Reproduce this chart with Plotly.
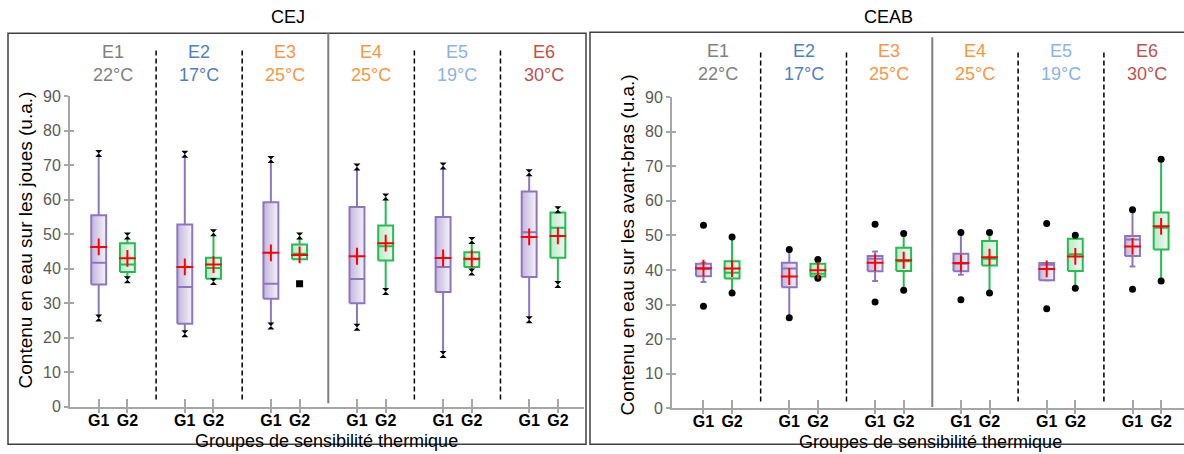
import plotly.graph_objects as go

W, H = 1184, 454
FONT = "Liberation Sans, Arial, sans-serif"

ENVS = ["E1", "E2", "E3", "E4", "E5", "E6"]
TEMPS = ["22°C", "17°C", "25°C", "25°C", "19°C", "30°C"]
ENV_COLORS = ["#808080", "#4F81BD", "#F79646", "#F79646", "#8DB3E2", "#C0504D"]
GROUPS = ["G1", "G2"]
Y_TICKS = [0, 10, 20, 30, 40, 50, 60, 70, 80, 90]

# order of each list: E1-G1, E1-G2, E2-G1, E2-G2, ... E6-G2
CEJ_MIN = [25.7, 36.8, 21.1, 36.3, 23.4, 35.6, 23.0, 33.4, 15.1, 39.0, 25.2, 35.4]
CEJ_LOW = [25.7, 36.8, 21.1, 36.3, 23.4, 42.7, 23.0, 33.4, 15.1, 39.0, 25.2, 35.4]
CEJ_Q1 = [35.4, 39.0, 24.0, 37.1, 31.3, 42.7, 30.0, 42.4, 33.2, 40.5, 37.6, 43.2]
CEJ_MED = [41.7, 41.2, 34.7, 40.2, 35.6, 44.3, 37.0, 46.5, 40.5, 42.7, 50.6, 51.9]
CEJ_Q3 = [55.5, 47.4, 52.8, 43.2, 59.3, 47.0, 57.9, 52.5, 55.0, 44.8, 62.4, 56.3]
CEJ_HIGH = [73.4, 49.5, 73.2, 50.4, 71.7, 49.5, 69.5, 60.8, 69.8, 48.2, 67.8, 57.1]
CEJ_MAX = [73.4, 49.5, 73.2, 50.4, 71.7, 49.5, 69.5, 60.8, 69.8, 48.2, 67.8, 57.1]
CEJ_MEAN = [46.3, 43.0, 40.5, 41.2, 44.6, 44.0, 43.6, 47.4, 43.1, 42.9, 49.2, 49.5]

CEAB_MIN = [29.5, 33.3, 26.2, 37.6, 30.7, 34.1, 31.4, 33.3, 28.8, 34.7, 34.4, 36.8]
CEAB_LOW = [36.5, 33.3, 26.2, 37.6, 36.8, 34.1, 38.6, 33.3, 37.0, 34.7, 41.0, 36.8]
CEAB_Q1 = [38.2, 37.5, 35.0, 38.1, 39.6, 39.7, 39.6, 41.3, 37.0, 39.7, 44.0, 45.9]
CEAB_MED = [40.3, 39.2, 40.4, 38.9, 43.2, 42.5, 41.8, 43.2, 41.5, 44.5, 48.8, 52.2]
CEAB_Q3 = [41.8, 42.5, 42.1, 41.8, 44.0, 46.4, 44.7, 48.4, 42.0, 49.0, 49.8, 56.6]
CEAB_HIGH = [42.1, 49.5, 45.9, 43.0, 45.3, 50.5, 50.8, 50.8, 42.0, 50.0, 57.4, 72.0]
CEAB_MAX = [52.9, 49.5, 45.9, 43.0, 53.2, 50.5, 50.8, 50.8, 53.4, 50.0, 57.4, 72.0]
CEAB_MEAN = [40.5, 40.4, 38.1, 39.9, 42.1, 42.8, 42.0, 43.7, 40.3, 43.9, 46.8, 52.6]

LINE_COL = ["#8E76BC", "#23BC50"]
GRAD = [[[0, "#C2B5DD"], [1, "#F6F3FA"]], [[0, "#BDE9C9"], [1, "#EEF9F1"]]]
AX_COL = "#A6A6A6"
HALF = 0.26
CAP = 0.1

# the captured page shows the figure with a small vertical offset and squeeze;
# convert target screen pixels into figure pixels accordingly
V_OFF, V_SCALE = 7.7, 0.962

fig = go.Figure()


def px_y(p):
    yf = (p - V_OFF) / V_SCALE
    yf = min(max(yf, 0.8), H - 0.8)
    return (H - yf) / H


def positions():
    return [3 * e + g for e in range(len(ENVS)) for g in range(len(GROUPS))]


def draw_panel(xa, ya, mn, low, q1, med, q3, high, mx, mean, end_symbol, caps):
    pos = positions()
    for g in range(2):
        idx = [i for i in range(len(pos)) if i % 2 == g]
        wx, wy = [], []
        for i in idx:
            wx += [pos[i], pos[i], None, pos[i], pos[i], None]
            wy += [low[i], q1[i], None, q3[i], high[i], None]
            if caps:
                if low[i] != mn[i]:
                    wx += [pos[i] - CAP, pos[i] + CAP, None]
                    wy += [low[i], low[i], None]
                if high[i] != mx[i]:
                    wx += [pos[i] - CAP, pos[i] + CAP, None]
                    wy += [high[i], high[i], None]
        fig.add_trace(go.Scatter(x=wx, y=wy, mode="lines", xaxis=xa, yaxis=ya,
                                 line=dict(color=LINE_COL[g], width=2),
                                 hoverinfo="skip", showlegend=False))
    for i in range(len(pos)):
        g = i % 2
        x0, x1 = pos[i] - HALF, pos[i] + HALF
        fig.add_trace(go.Scatter(
            x=[x0, x1, x1, x0, x0], y=[q1[i], q1[i], q3[i], q3[i], q1[i]],
            mode="lines", fill="toself", xaxis=xa, yaxis=ya,
            fillgradient=dict(type="horizontal", colorscale=GRAD[g]),
            line=dict(color=LINE_COL[g], width=2),
            hoverinfo="skip", showlegend=False))
    for g in range(2):
        idx = [i for i in range(len(pos)) if i % 2 == g]
        mxs, mys = [], []
        for i in idx:
            mxs += [pos[i] - HALF, pos[i] + HALF, None]
            mys += [med[i], med[i], None]
        fig.add_trace(go.Scatter(x=mxs, y=mys, mode="lines", xaxis=xa, yaxis=ya,
                                 line=dict(color=LINE_COL[g], width=2),
                                 hoverinfo="skip", showlegend=False))
    ex, ey, es = [], [], []
    for i in range(len(pos)):
        ex += [pos[i], pos[i]]
        ey += [mn[i], mx[i]]
        if end_symbol == "hourglass":
            es += ["hourglass" if mn[i] == low[i] else "square", "hourglass"]
        else:
            es += [end_symbol, end_symbol]
    fig.add_trace(go.Scatter(x=ex, y=ey, mode="markers", xaxis=xa, yaxis=ya,
                             marker=dict(symbol=es, size=7, color="black"),
                             hoverinfo="skip", showlegend=False))
    fig.add_trace(go.Scatter(x=pos, y=mean, mode="markers", xaxis=xa, yaxis=ya,
                             marker=dict(symbol="cross-thin", size=12,
                                         line=dict(color="#FF0000", width=2)),
                             hoverinfo="skip", showlegend=False))


draw_panel("x", "y", CEJ_MIN, CEJ_LOW, CEJ_Q1, CEJ_MED, CEJ_Q3, CEJ_HIGH, CEJ_MAX, CEJ_MEAN,
           "hourglass", False)
draw_panel("x2", "y2", CEAB_MIN, CEAB_LOW, CEAB_Q1, CEAB_MED, CEAB_Q3, CEAB_HIGH, CEAB_MAX,
           CEAB_MEAN, "circle", True)

# dummy traces for tick-crossing overlay axes
fig.add_trace(go.Scatter(x=[None], y=[None], xaxis="x3", yaxis="y3", showlegend=False))
fig.add_trace(go.Scatter(x=[None], y=[None], xaxis="x4", yaxis="y4", showlegend=False))

pos = positions()
ticktext = ["<b>%s</b>" % GROUPS[i % 2] for i in range(len(pos))]

panels = [
    dict(x="x", y="y", xdom=[70 / W, 583.7 / W], xr=[-1, 16.9], ydom=[px_y(406), px_y(96)]),
    dict(x="x2", y="y2", xdom=[672 / W, 1.0], xr=[-1.1, 16.8], ydom=[px_y(407.7), px_y(96.7)]),
]

layout = dict(
    width=W, height=H, margin=dict(l=0, r=0, t=0, b=0),
    paper_bgcolor="white", plot_bgcolor="rgba(0,0,0,0)",
    font=dict(family=FONT, color="black"),
    showlegend=False,
)

for k, p in enumerate(panels):
    xs = "" if k == 0 else "2"
    ov = str(3 + k)
    layout["xaxis" + xs] = dict(
        domain=p["xdom"], range=p["xr"], anchor=p["y"], showline=True, linecolor=AX_COL,
        linewidth=2, ticks="outside", ticklen=4, tickwidth=2, tickcolor=AX_COL,
        ticklabelstandoff=-6,
        tickvals=pos, ticktext=ticktext, tickfont=dict(size=16, color="black", family=FONT),
        showgrid=False, zeroline=False, fixedrange=True)
    layout["yaxis" + xs] = dict(
        domain=p["ydom"], range=[0, 90], anchor=p["x"], showline=True, linecolor=AX_COL,
        linewidth=2, ticks="outside", ticklen=4, tickwidth=2, tickcolor=AX_COL,
        tickvals=Y_TICKS, tickfont=dict(size=16, color="#595959", family=FONT),
        showgrid=False, zeroline=False, fixedrange=True)
    layout["xaxis" + ov] = dict(
        overlaying=p["x"], anchor="y" + ov, range=p["xr"], ticks="inside", ticklen=8,
        tickwidth=2, tickcolor=AX_COL, tickvals=pos, showticklabels=False, showline=False,
        showgrid=False, zeroline=False, fixedrange=True)
    layout["yaxis" + ov] = dict(
        overlaying=p["y"], anchor="x" + ov, range=[0, 90], ticks="inside", ticklen=4,
        tickwidth=2, tickcolor=AX_COL, tickvals=Y_TICKS, showticklabels=False,
        showline=False, showgrid=False, zeroline=False, fixedrange=True)

shapes = []
# panel frames
shapes.append(dict(type="rect", xref="paper", yref="paper", x0=8 / W, x1=586 / W,
                   y0=px_y(452), y1=px_y(33), line=dict(color="#404040", width=1.5)))
shapes.append(dict(type="rect", xref="paper", yref="paper", x0=590 / W, x1=1195 / W,
                   y0=px_y(453), y1=px_y(32), line=dict(color="#404040", width=1.5)))
for k, (xr, top_d, bot_d, top_s, bot_s) in enumerate([("x", 47.5, 399, 33, 402.7),
                                                      ("x2", 52, 401, 37, 406.5)]):
    for e in range(len(ENVS) - 1):
        xv = 3 * e + 2
        if e == 2:
            shapes.append(dict(type="line", xref=xr, yref="paper", x0=xv, x1=xv,
                               y0=px_y(bot_s), y1=px_y(top_s),
                               line=dict(color="#7F7F7F", width=2)))
        else:
            shapes.append(dict(type="line", xref=xr, yref="paper", x0=xv, x1=xv,
                               y0=px_y(bot_d), y1=px_y(top_d),
                               line=dict(color="black", width=1.5, dash="5px,3px")))
layout["shapes"] = shapes


def note(text, x, y, xref="paper", size=17, color="black", angle=0):
    return dict(text=text, x=x, y=y, xref=xref, yref="paper", showarrow=False,
                xanchor="center", yanchor="middle", textangle=angle,
                font=dict(size=size, color=color, family=FONT))


ann = []
ann.append(note("CEJ", 288 / W, px_y(17), size=18))
ann.append(note("CEAB", 888 / W, px_y(17), size=18))
for k, (xr, ye, yt) in enumerate([("x", 52, 75), ("x2", 51, 74)]):
    for e in range(len(ENVS)):
        ann.append(note(ENVS[e], 3 * e + 0.5, px_y(ye), xref=xr, size=18, color=ENV_COLORS[e]))
        ann.append(note(TEMPS[e], 3 * e + 0.5, px_y(yt), xref=xr, size=18, color=ENV_COLORS[e]))
ann.append(note("Contenu en eau sur les joues (u.a.)", 25 / W, px_y(240), size=19, angle=-90))
ann.append(note("Contenu en eau sur les avant-bras (u.a.)", 627 / W, px_y(245), size=19,
                angle=-90))
ann.append(note("Groupes de sensibilité thermique", 326 / W, px_y(440.5), size=18))
ann.append(note("Groupes de sensibilité thermique", 930 / W, px_y(441), size=18))
layout["annotations"] = ann

fig.update_layout(**layout)
fig.write_html("out.html", config={"displayModeBar": False},
               post_script="document.documentElement.style.margin='0px';"
                           "document.body.style.margin='0px';"
                           "document.body.style.padding='0px';")
